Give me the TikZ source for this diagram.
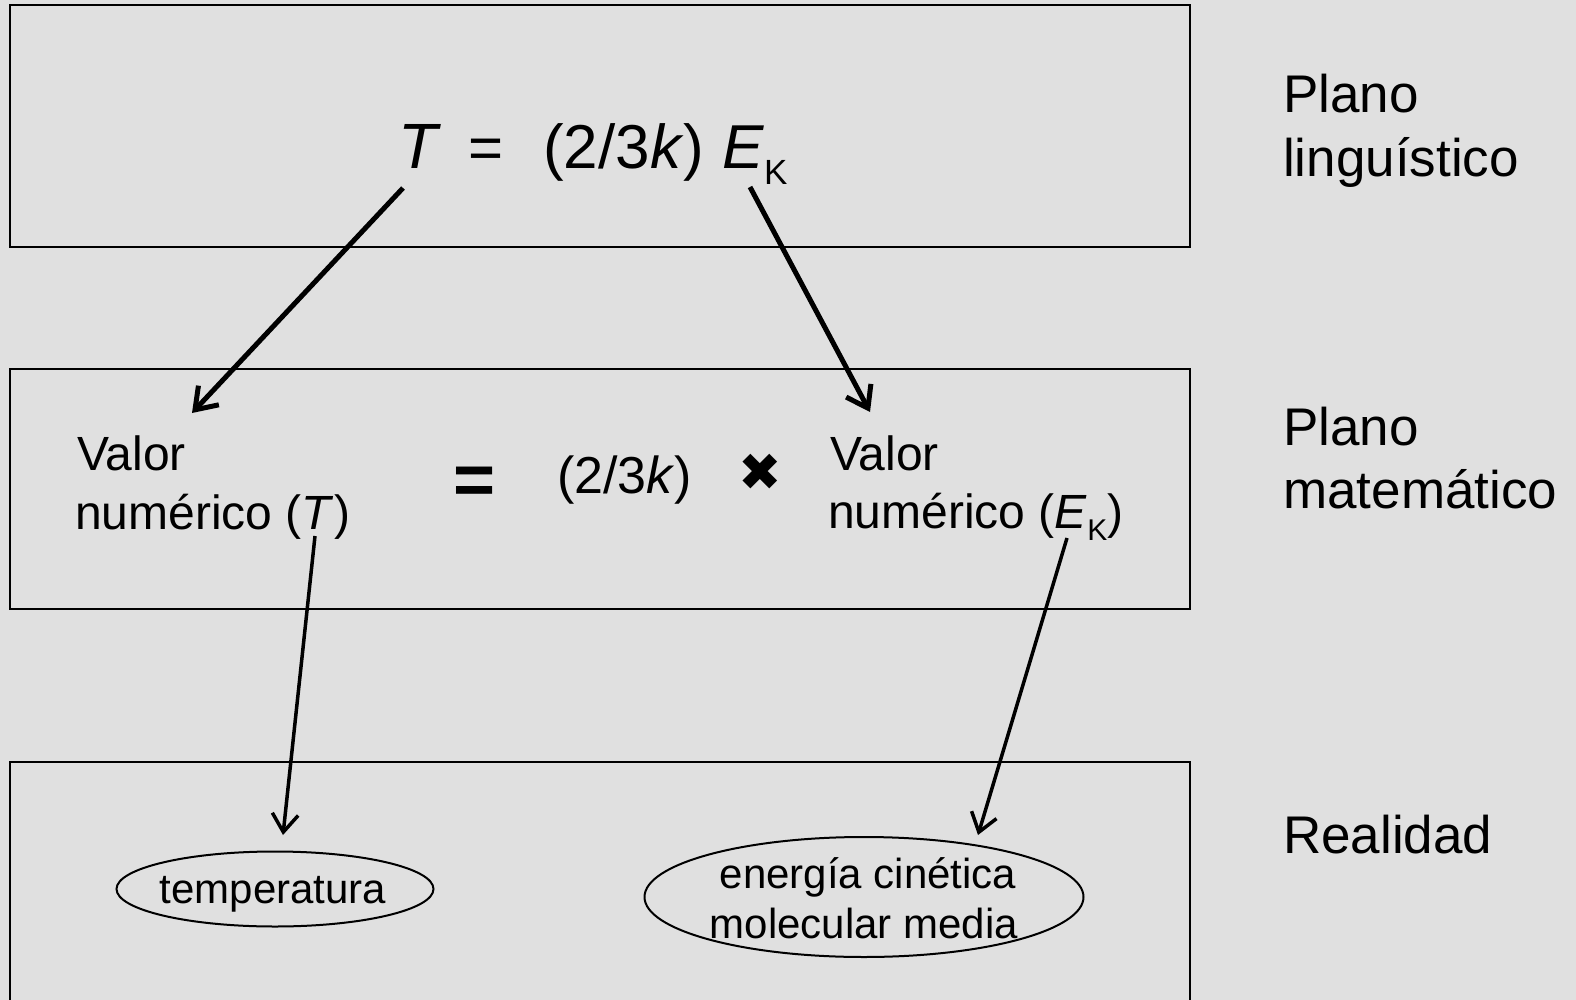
\documentclass[tikz,border=0pt]{standalone}
\usepackage{fontspec}
\setmainfont{Liberation Sans}
\newfontfamily\djv{DejaVu Sans}
\usetikzlibrary{arrows.meta,shapes.geometric}
\definecolor{bg}{RGB}{224,224,224}
\begin{document}
\begin{tikzpicture}[x=1pt,y=-1pt,
 frame/.style={draw=black,line width=2pt},
 txt/.style={inner sep=0pt,anchor=base west},
 ctxt/.style={inner sep=0pt,anchor=base},
 fplane/.style={font=\fontsize{53}{63}\selectfont},
 fmid/.style={font=\fontsize{48}{58}\selectfont},
 fform/.style={font=\fontsize{62}{70}\selectfont},
 freal/.style={font=\fontsize{42}{50}\selectfont},
 oval/.style={ellipse,draw=black,line width=2pt,inner sep=0pt},
 bigarrow/.style={line width=5pt,-{Straight Barb[length=20pt,width=28pt]}},
 smallarrow/.style={line width=3.5pt,-{Straight Barb[length=18pt,width=26pt]}}]
\useasboundingbox (0,0) rectangle (1576,1000);
\fill[bg] (0,0) rectangle (1576,1000);
\clip (0,0) rectangle (1576,1000);
% planes
\draw[frame] (10,5) rectangle (1190,247);
\draw[frame] (10,369) rectangle (1190,609);
\draw[frame] (10,762) rectangle (1190,1020);
% formula
\node[txt,font=\fontsize{64}{70}\selectfont\itshape] (T) at (398,169) {T};
\node[txt,font=\fontsize{60}{70}\selectfont] (eq) at (468,169) {=};
\node[txt,fform] (k) at (543,169) {(2/3\textit{k})};
\node[txt,fform] (E) at (722,169) {\textit{E}\raisebox{-16pt}{\fontsize{35}{35}\selectfont K}};
% middle
\node[txt,fmid] (v1) at (77,470) {Valor};
\node[txt,fmid] (n1) at (75,529) {numérico (\textit{T})};
\node[font=\fontsize{72}{72}\selectfont\bfseries,inner sep=0pt] (eq2) at (474.5,486) {=};
\node[txt,font=\fontsize{52}{60}\selectfont] (k2) at (557,493) {(2/3\textit{k})};
\node[font=\djv\fontsize{52}{52}\selectfont,inner sep=0pt] (x) at (760,472) {✖};
\node[txt,fmid] (v2) at (830,470) {Valor};
\node[txt,fmid] (n2) at (828,528) {numérico (\textit{E}\raisebox{-12pt}{\fontsize{30}{30}\selectfont K})};
% plane labels
\node[txt,fplane] (p1a) at (1283,113) {Plano};
\node[txt,fplane] (p1b) at (1283,177) {linguístico};
\node[txt,fplane] (p2a) at (1283,445) {Plano};
\node[txt,fplane] (p2b) at (1283,508) {matemático};
\node[txt,fplane] (p3) at (1283,853) {Realidad};
% reality
\node[oval,minimum width=317pt,minimum height=75pt] (temp) at (275,889) {};
\node[ctxt,freal] (tempt) at (273,903) {temperatura};
\node[oval,minimum width=439pt,minimum height=120pt] (ekin) at (864,897) {};
\node[ctxt,freal] (ek1) at (868,888) {energía cinética};
\node[ctxt,freal] (ek2) at (864,938) {molecular media};
% arrows
\coordinate (a1s) at (403,188);
\coordinate (a1e) at (192,413);
\coordinate (a2s) at (750,187);
\coordinate (a2e) at (870,412);
\coordinate (a3s) at (315,536);
\coordinate (a3e) at (283,835);
\coordinate (a4s) at (1067,538);
\coordinate (a4e) at (978,835);
\draw[bigarrow] (a1s) -- (a1e);
\draw[bigarrow] (a2s) -- (a2e);
\draw[smallarrow] (a3s) -- (a3e);
\draw[smallarrow] (a4s) -- (a4e);
\end{tikzpicture}
\end{document}
